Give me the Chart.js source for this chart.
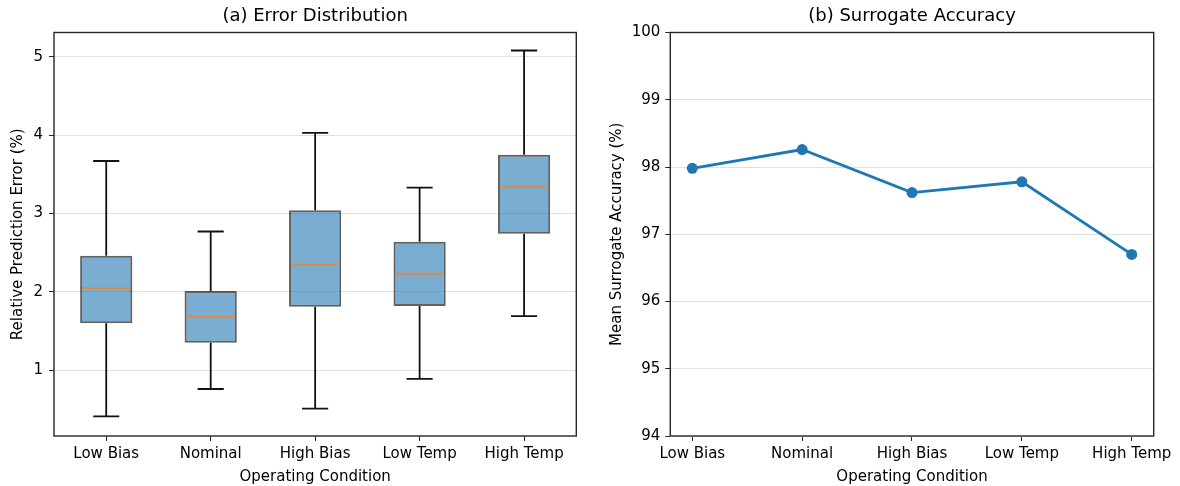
<!DOCTYPE html>
<html>
<head>
<meta charset="utf-8">
<script src="https://cdn.jsdelivr.net/npm/chart.js@4.4.1/dist/chart.umd.min.js"></script>
<style>
  html, body { margin: 0; padding: 0; background: #fff; }
  #wrap { position: relative; width: 1180px; height: 486px; }
  .panel { position: absolute; top: 0; width: 590px; height: 486px; }
</style>
</head>
<body>
<div id="wrap">
  <div class="panel" style="left:0"><canvas id="errChart"></canvas></div>
  <div class="panel" style="left:590px"><canvas id="accChart"></canvas></div>
</div>
<script>
// condiçoes de operação
const condicoes = ["Low Bias", "Nominal", "High Bias", "Low Temp", "High Temp"];

// boxplot do erro relativo (%)
const err_min = [0.41, 0.76, 0.51, 0.89, 1.69];
const err_q1 = [1.60, 1.35, 1.81, 1.82, 2.74];
const err_mediana = [2.05, 1.68, 2.35, 2.23, 3.34];
const err_q3 = [2.46, 2.01, 3.04, 2.64, 3.75];
const err_max = [3.67, 2.77, 4.03, 3.33, 5.08];
const err_ticks = [1, 2, 3, 4, 5];

// acuracia media do surrogate (%)
const acuracia = [97.98, 98.26, 97.62, 97.78, 96.70];
const acc_ticks = [94, 95, 96, 97, 98, 99, 100];

Chart.defaults.font.family = "'DejaVu Sans', sans-serif";
Chart.defaults.font.size = 15;
Chart.defaults.color = "#000";
Chart.defaults.animation = false;

const corEixo = "#262626";
const corGrade = "#e0e0e0";

// moldura completa em volta da area do grafico
const moldura = {
  id: "moldura",
  afterDraw(chart) {
    const { ctx, chartArea: a } = chart;
    ctx.save();
    ctx.strokeStyle = corEixo;
    ctx.lineWidth = 1.4;
    ctx.strokeRect(a.left, a.top, a.right - a.left, a.bottom - a.top);
    ctx.restore();
  }
};

// bigodes e medianas do boxplot
const bigodes = {
  id: "bigodes",
  afterDatasetsDraw(chart) {
    const ctx = chart.ctx;
    const x = chart.scales.x;
    const y = chart.scales.y;
    const largura = x.getPixelForValue(1) - x.getPixelForValue(0);
    ctx.save();
    condicoes.forEach((c, i) => {
      let cx = x.getPixelForValue(i);
      let cap = largura * 0.125;
      let box = largura * 0.25;
      ctx.strokeStyle = "#111";
      ctx.lineWidth = 1.8;
      ctx.beginPath();
      ctx.moveTo(cx, y.getPixelForValue(err_q3[i]));
      ctx.lineTo(cx, y.getPixelForValue(err_max[i]));
      ctx.moveTo(cx - cap, y.getPixelForValue(err_max[i]));
      ctx.lineTo(cx + cap, y.getPixelForValue(err_max[i]));
      ctx.moveTo(cx, y.getPixelForValue(err_q1[i]));
      ctx.lineTo(cx, y.getPixelForValue(err_min[i]));
      ctx.moveTo(cx - cap, y.getPixelForValue(err_min[i]));
      ctx.lineTo(cx + cap, y.getPixelForValue(err_min[i]));
      ctx.stroke();
      // mediana
      ctx.strokeStyle = "rgb(222,138,70)";
      ctx.lineWidth = 2;
      ctx.beginPath();
      ctx.moveTo(cx - box + 2, y.getPixelForValue(err_mediana[i]));
      ctx.lineTo(cx + box - 2, y.getPixelForValue(err_mediana[i]));
      ctx.stroke();
    });
    ctx.restore();
  }
};

function tituloEixo(texto, padTop) {
  return { display: true, text: texto, color: "#000", font: { size: 15 }, padding: { top: padTop, bottom: 0 } };
}

// titulo centrado so sobre a area do grafico
function tituloPainel(texto) {
  return {
    display: true,
    fullSize: false,
    text: texto,
    color: "#000",
    font: { size: 18, weight: "normal" },
    padding: { top: 6, bottom: 4.9 }
  };
}

new Chart(document.getElementById("errChart"), {
  type: "bar",
  data: {
    labels: condicoes,
    datasets: [{
      data: err_q1.map((q, i) => [q, err_q3[i]]),
      backgroundColor: "rgba(31,119,180,0.6)",
      borderColor: "rgba(0,0,0,0.62)",
      borderWidth: 2,
      borderSkipped: false,
      barPercentage: 0.5,
      categoryPercentage: 1.0
    }]
  },
  options: {
    responsive: true,
    maintainAspectRatio: false,
    layout: { padding: { right: 13.7 } },
    plugins: {
      legend: { display: false },
      tooltip: { enabled: false },
      title: tituloPainel("(a) Error Distribution")
    },
    scales: {
      x: {
        grid: { offset: false, drawOnChartArea: false, tickColor: corEixo, tickLength: 5 },
        border: { display: false },
        ticks: { padding: 4 },
        title: tituloEixo("Operating Condition", 1),
        afterFit: s => { s.height = 50; }
      },
      y: {
        min: 0.16,
        max: 5.31,
        grid: { color: corGrade, tickColor: corEixo, tickLength: 5 },
        border: { display: false },
        ticks: { padding: 6 },
        afterBuildTicks: s => { s.ticks = err_ticks.map(v => ({ value: v })); },
        title: tituloEixo("Relative Prediction Error (%)", 9),
        afterFit: s => { s.width = 54; }
      }
    }
  },
  plugins: [bigodes, moldura]
});

new Chart(document.getElementById("accChart"), {
  type: "line",
  data: {
    datasets: [{
      data: acuracia.map((v, i) => ({ x: i, y: v })),
      borderColor: "#1f77b4",
      backgroundColor: "#1f77b4",
      borderWidth: 2.8,
      pointRadius: 5.5,
      pointBorderWidth: 0,
      tension: 0
    }]
  },
  options: {
    responsive: true,
    maintainAspectRatio: false,
    layout: { padding: { right: 26.3 } },
    plugins: {
      legend: { display: false },
      tooltip: { enabled: false },
      title: tituloPainel("(b) Surrogate Accuracy")
    },
    scales: {
      x: {
        type: "linear",
        min: -0.2,
        max: 4.2,
        grid: { drawOnChartArea: false, tickColor: corEixo, tickLength: 5 },
        border: { display: false },
        ticks: { padding: 4, callback: v => condicoes[v] },
        afterBuildTicks: s => { s.ticks = condicoes.map((c, i) => ({ value: i })); },
        title: tituloEixo("Operating Condition", 1),
        afterFit: s => { s.height = 50; }
      },
      y: {
        min: 94,
        max: 100,
        grid: { color: corGrade, tickColor: corEixo, tickLength: 5 },
        border: { display: false },
        ticks: { padding: 5 },
        afterBuildTicks: s => { s.ticks = acc_ticks.map(v => ({ value: v })); },
        title: tituloEixo("Mean Surrogate Accuracy (%)", 17.7),
        afterFit: s => { s.width = 80.3; }
      }
    }
  },
  plugins: [moldura]
});
</script>
</body>
</html>
